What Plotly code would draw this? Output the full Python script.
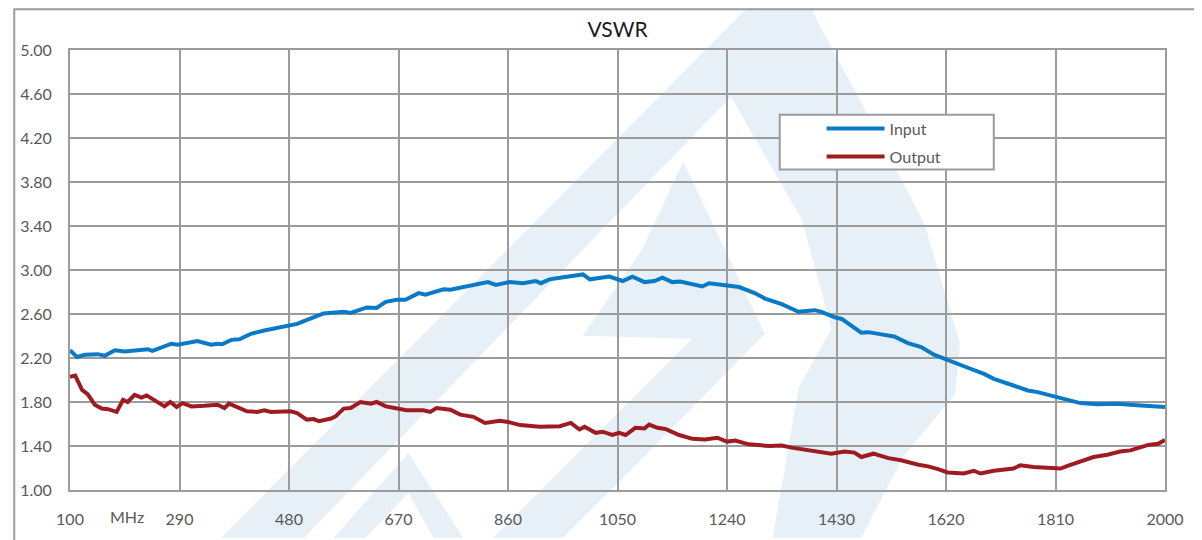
import plotly.graph_objects as go

# ---------------- data ----------------
input_mhz = [100, 112, 126, 148, 160, 178, 195, 235, 243, 276, 287, 321, 345, 356, 364, 380, 394,
             414, 437, 454, 459, 477, 494, 518, 540, 575, 587, 615, 632, 648, 667, 682, 705, 717,
             730, 748, 760, 787, 805, 825, 839, 863, 886, 908, 917, 932, 950, 972, 990, 1002,
             1019, 1036, 1059, 1076, 1097, 1114, 1128, 1145, 1159, 1183, 1197, 1209, 1237, 1261,
             1288, 1306, 1335, 1364, 1392, 1404, 1427, 1439, 1473, 1485, 1513, 1530, 1554, 1577,
             1599, 1620, 1634, 1651, 1686, 1703, 1737, 1762, 1779, 1807, 1836, 1853, 1883, 1917,
             1952, 2000]
input_vswr = [2.27, 2.21, 2.23, 2.235, 2.22, 2.27, 2.26, 2.28, 2.265, 2.33, 2.32, 2.355, 2.32, 2.33,
              2.325, 2.365, 2.37, 2.42, 2.45, 2.47, 2.475, 2.49, 2.51, 2.56, 2.605, 2.62, 2.61, 2.66,
              2.655, 2.71, 2.73, 2.73, 2.79, 2.775, 2.80, 2.825, 2.82, 2.85, 2.865, 2.89, 2.865, 2.89,
              2.88, 2.90, 2.88, 2.915, 2.93, 2.945, 2.96, 2.915, 2.93, 2.94, 2.90, 2.94, 2.89, 2.90,
              2.93, 2.89, 2.895, 2.87, 2.85, 2.88, 2.86, 2.845, 2.79, 2.74, 2.69, 2.62, 2.635, 2.62,
              2.57, 2.555, 2.43, 2.435, 2.41, 2.395, 2.335, 2.30, 2.23, 2.19, 2.165, 2.125, 2.055,
              2.01, 1.95, 1.905, 1.89, 1.85, 1.815, 1.79, 1.78, 1.785, 1.77, 1.755]

output_mhz = [100, 109, 121, 131, 143, 155, 166, 181, 192, 200, 212, 224, 233, 250, 264, 274, 285,
              295, 311, 333, 356, 368, 376, 407, 425, 437, 449, 483, 494, 511, 523, 532, 553, 561,
              575, 587, 604, 622, 632, 648, 673, 684, 713, 725, 736, 760, 777, 800, 820, 846, 863,
              881, 915, 950, 969, 984, 993, 1012, 1024, 1041, 1053, 1064, 1081, 1097, 1105, 1119,
              1133, 1157, 1180, 1202, 1223, 1240, 1254, 1278, 1313, 1335, 1352, 1370, 1392, 1421,
              1444, 1461, 1473, 1494, 1520, 1542, 1572, 1589, 1606, 1623, 1651, 1668, 1680, 1703,
              1737, 1749, 1772, 1796, 1819, 1831, 1858, 1876, 1900, 1922, 1940, 1952, 1971, 1988,
              2000]
output_vswr = [2.03, 2.04, 1.91, 1.87, 1.775, 1.74, 1.735, 1.71, 1.82, 1.80, 1.865, 1.84, 1.86, 1.81,
               1.76, 1.80, 1.755, 1.79, 1.76, 1.765, 1.775, 1.745, 1.785, 1.715, 1.71, 1.725, 1.71,
               1.715, 1.70, 1.64, 1.645, 1.625, 1.65, 1.67, 1.74, 1.745, 1.80, 1.785, 1.80, 1.76,
               1.74, 1.725, 1.725, 1.71, 1.745, 1.73, 1.685, 1.665, 1.61, 1.63, 1.615, 1.59, 1.575,
               1.58, 1.61, 1.55, 1.575, 1.52, 1.53, 1.50, 1.52, 1.50, 1.565, 1.56, 1.595, 1.565,
               1.555, 1.50, 1.465, 1.46, 1.475, 1.44, 1.45, 1.415, 1.40, 1.405, 1.385, 1.37, 1.355,
               1.33, 1.35, 1.34, 1.30, 1.33, 1.29, 1.27, 1.23, 1.215, 1.19, 1.16, 1.15, 1.175, 1.15,
               1.175, 1.195, 1.225, 1.21, 1.205, 1.195, 1.22, 1.27, 1.30, 1.32, 1.35, 1.36, 1.38,
               1.41, 1.42, 1.455]

x_ticks = [100, 290, 480, 670, 860, 1050, 1240, 1430, 1620, 1810, 2000]
x_tick_labels = ["100", "290", "480", "670", "860", "1050", "1240", "1430", "1620", "1810", "2000"]
y_ticks = [1.0, 1.4, 1.8, 2.2, 2.6, 3.0, 3.4, 3.8, 4.2, 4.6, 5.0]
y_tick_labels = ["1.00", "1.40", "1.80", "2.20", "2.60", "3.00", "3.40", "3.80", "4.20", "4.60", "5.00"]
series_names = ["Input", "Output"]
title_text = "VSWR"
unit_label = "MHz"

# ---------------- layout geometry ----------------
OFF = 8  # page body margin
W, H = 1202 - OFF, 540 - OFF
ML, MR, MT, MB = 57, 37, 42, 48
PW, PH = W - ML - MR, H - MT - MB


def px(xs):
    """screen x pixel -> paper fraction"""
    return (xs - OFF - ML) / PW


def py(ys):
    """screen y pixel -> paper fraction"""
    return (H - MB - (ys - OFF)) / PH


def poly_path(points):
    return "M " + " L ".join(f"{px(a):.4f},{py(b):.4f}" for a, b in points) + " Z"


GRID = "#9c9c9c"
TXT = "#595959"
WM = "#e7eff7"
FONT = "Lato, 'Open Sans', sans-serif"

fig = go.Figure()
fig.add_trace(go.Scatter(x=input_mhz, y=input_vswr, mode="lines", name=series_names[0],
                         legendgroup="a",
                         line=dict(color="#0a7ac6", width=4)))
fig.add_trace(go.Scatter(x=output_mhz, y=output_vswr, mode="lines", name=series_names[1],
                         legendgroup="b",
                         line=dict(color="#9e1c20", width=4)))

shapes = []
# faint watermark (background logo)
wm_polys = [
    [(217, 540), (300, 540), (815, 8), (745, 8)],
    [(745, 8), (808, 7), (860, 103), (923, 224), (959, 344), (954, 396), (902, 458), (860, 540),
     (771, 540), (797, 389), (830, 330), (800, 220), (725, 90)],
    [(681, 162), (763, 335), (655, 445), (560, 540), (490, 540), (690, 340), (580, 337), (640, 250)],
    [(330, 540), (405, 455), (460, 540), (430, 540), (405, 495), (362, 540)],
]
for p in wm_polys:
    shapes.append(dict(type="path", xref="paper", yref="paper", path=poly_path(p),
                       fillcolor=WM, line=dict(width=0), layer="below"))
# outer chart frame
shapes.append(dict(type="rect", xref="paper", yref="paper",
                   x0=px(9), x1=px(1200), y0=py(560), y1=py(9),
                   line=dict(color=GRID, width=2), fillcolor="rgba(0,0,0,0)", layer="below"))
# legend box
shapes.append(dict(type="rect", xref="paper", yref="paper",
                   x0=px(778), x1=px(993), y0=py(170), y1=py(115),
                   line=dict(color=GRID, width=2), fillcolor="white", layer="above"))

fig.update_layout(
    width=W, height=H,
    margin=dict(l=ML, r=MR, t=MT, b=MB),
    paper_bgcolor="white",
    plot_bgcolor="rgba(0,0,0,0)",
    font=dict(family=FONT, size=16, color=TXT),
    title=dict(text=title_text, x=0.5, xref="paper", xanchor="center",
               y=1 - 22 / H, yanchor="middle",
               font=dict(family=FONT, size=21, color="#1a1a1a")),
    shapes=shapes,
    showlegend=True,
    legend=dict(x=px(820), y=py(112), xanchor="left", yanchor="top",
                bgcolor="rgba(0,0,0,0)", borderwidth=0, itemwidth=58,
                font=dict(family=FONT, size=16, color=TXT),
                tracegroupgap=4),
    annotations=[dict(text=unit_label, x=199, xref="x", y=py(518.5), yref="paper",
                      showarrow=False, xanchor="center", yanchor="middle",
                      font=dict(family=FONT, size=16, color=TXT))],
)
fig.update_xaxes(range=[100, 2000], tickvals=x_ticks, ticktext=x_tick_labels,
                 showgrid=True, gridcolor=GRID, gridwidth=2,
                 showline=True, linecolor=GRID, linewidth=2, mirror=True,
                 zeroline=False, ticks="", ticklabelstandoff=14,
                 tickfont=dict(family=FONT, size=16, color=TXT))
fig.update_yaxes(range=[1, 5], tickvals=y_ticks, ticktext=y_tick_labels,
                 showgrid=True, gridcolor=GRID, gridwidth=2,
                 showline=True, linecolor=GRID, linewidth=2, mirror=True,
                 zeroline=False, ticks="", ticklabelstandoff=13,
                 tickfont=dict(family=FONT, size=16, color=TXT))

fig.write_html("out.html")
